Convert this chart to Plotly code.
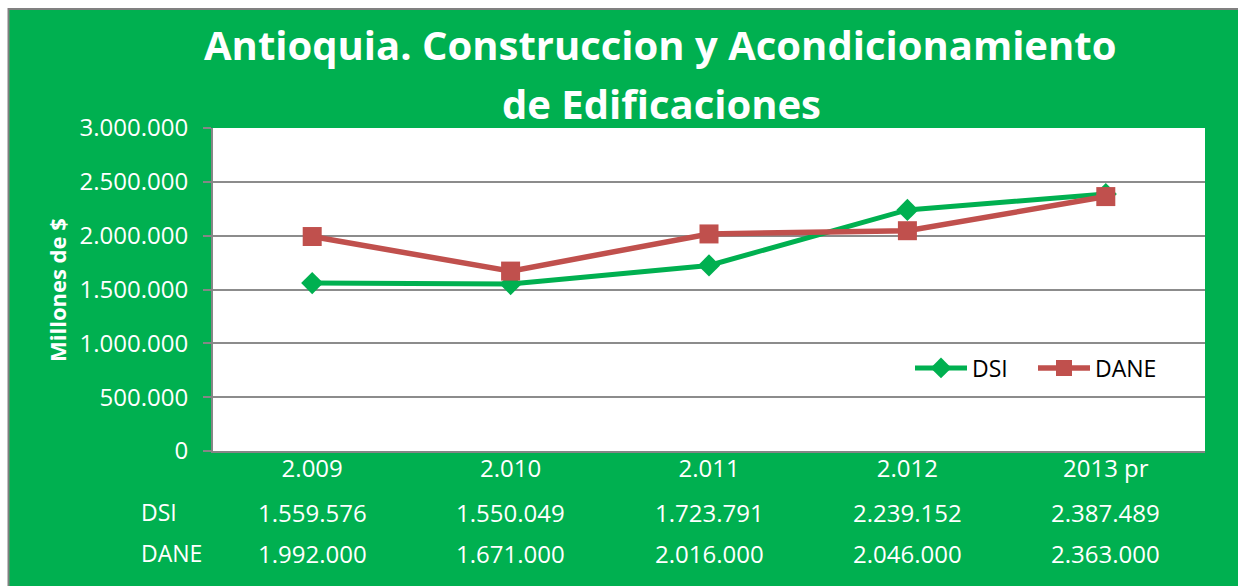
import plotly.graph_objects as go

categories = ["2.009", "2.010", "2.011", "2.012", "2013 pr"]
dsi = [1559576, 1550049, 1723791, 2239152, 2387489]
dane = [1992000, 1671000, 2016000, 2046000, 2363000]
dsi_text = ["1.559.576", "1.550.049", "1.723.791", "2.239.152", "2.387.489"]
dane_text = ["1.992.000", "1.671.000", "2.016.000", "2.046.000", "2.363.000"]
y_ticks = [0, 500000, 1000000, 1500000, 2000000, 2500000, 3000000]

# page margin removed by post_script, so figure coords == page coords
W, H = 1238, 586
ML, MR, MT, MB = 213, 33, 128, 135
PW, PH = W - ML - MR, H - MT - MB

def xp(px):
    return (px - ML) / PW

def yp(py):
    return (H - MB - py) / PH

GREEN = "#00B050"
RED = "#C0504D"
FONT = "Open Sans, Lato, Arial"

x_idx = list(range(len(categories)))

fig = go.Figure()
fig.add_trace(go.Scatter(
    x=x_idx, y=dsi, name="DSI", mode="lines+markers",
    line=dict(color=GREEN, width=5),
    marker=dict(symbol="diamond", size=17, color=GREEN),
))
fig.add_trace(go.Scatter(
    x=x_idx, y=dane, name="DANE", mode="lines+markers",
    line=dict(color=RED, width=5.5),
    marker=dict(symbol="square", size=19, color=RED),
))

annotations = []
annotations.append(dict(
    text="<b>Antioquia. Construccion y Acondicionamiento</b>",
    xref="paper", yref="paper", x=xp(660), y=yp(45),
    xanchor="center", yanchor="middle", showarrow=False,
    font=dict(family=FONT, size=40, color="white"),
))
annotations.append(dict(
    text="<b>de Edificaciones</b>",
    xref="paper", yref="paper", x=xp(661), y=yp(103),
    xanchor="center", yanchor="middle", showarrow=False,
    font=dict(family=FONT, size=40, color="white"),
))
annotations.append(dict(
    text="<b>Millones de $</b>",
    xref="paper", yref="paper", x=xp(57), y=yp(290),
    xanchor="center", yanchor="middle", showarrow=False, textangle=-90,
    font=dict(family=FONT, size=22, color="white"),
))
rows = [("DSI", dsi_text, 512), ("DANE", dane_text, 553)]
for label, texts, py in rows:
    annotations.append(dict(
        text=label, xref="paper", yref="paper", x=xp(139), y=yp(py),
        xanchor="left", yanchor="middle", showarrow=False,
        font=dict(family=FONT, size=23, color="white"),
    ))
    for i, t in enumerate(texts):
        annotations.append(dict(
            text=t, xref="x", yref="paper", x=x_idx[i], y=yp(py),
            xanchor="center", yanchor="middle", showarrow=False,
            font=dict(family=FONT, size=24, color="white"),
        ))

shapes = [
    dict(type="rect", xref="paper", yref="paper", x0=xp(0), x1=xp(W), y0=yp(8), y1=yp(0),
         fillcolor="white", line=dict(width=0), layer="below"),
    dict(type="rect", xref="paper", yref="paper", x0=xp(0), x1=xp(8), y0=yp(H), y1=yp(0),
         fillcolor="white", line=dict(width=0), layer="below"),
    dict(type="line", xref="paper", yref="paper", x0=xp(8), x1=xp(W), y0=yp(9), y1=yp(9),
         line=dict(color="#808080", width=2), layer="below"),
    dict(type="line", xref="paper", yref="paper", x0=xp(8.5), x1=xp(8.5), y0=yp(8), y1=yp(H),
         line=dict(color="#808080", width=2), layer="below"),
]

fig.update_layout(
    width=W, height=H,
    margin=dict(l=ML, r=MR, t=MT, b=MB, pad=0),
    paper_bgcolor=GREEN, plot_bgcolor="white",
    separators=",.",
    font=dict(family=FONT, color="white", size=22),
    showlegend=True,
    legend=dict(
        orientation="h", x=xp(910), y=yp(368), xanchor="left", yanchor="middle",
        bgcolor="rgba(255,255,255,0)", font=dict(color="black", size=23, family=FONT),
        itemwidth=52, entrywidth=56, entrywidthmode="pixels",
    ),
    annotations=annotations,
    shapes=shapes,
    xaxis=dict(
        range=[-0.5, 4.5], tickmode="array", tickvals=x_idx, ticktext=categories,
        showgrid=False, zeroline=False, showline=True, linecolor="#868686", linewidth=2,
        ticks="", tickfont=dict(size=24, color="white"), ticklabelstandoff=-5,
        fixedrange=True,
    ),
    yaxis=dict(
        range=[0, 3000000], tickmode="array", tickvals=y_ticks,
        tickformat=",d", showgrid=True, gridcolor="#8C8C8C", gridwidth=2,
        zeroline=False, showline=True, linecolor="#868686", linewidth=2,
        ticks="outside", ticklen=8, tickcolor="#868686", tickwidth=2,
        tickfont=dict(size=24, color="white"), ticklabelstandoff=10,
        fixedrange=True,
    ),
)

fig.write_html(
    "out.html",
    config={"displayModeBar": False},
    post_script=(
        "document.body.style.margin='0';"
        "document.body.style.overflow='hidden';"
        "document.documentElement.style.overflow='hidden';"
    ),
)
